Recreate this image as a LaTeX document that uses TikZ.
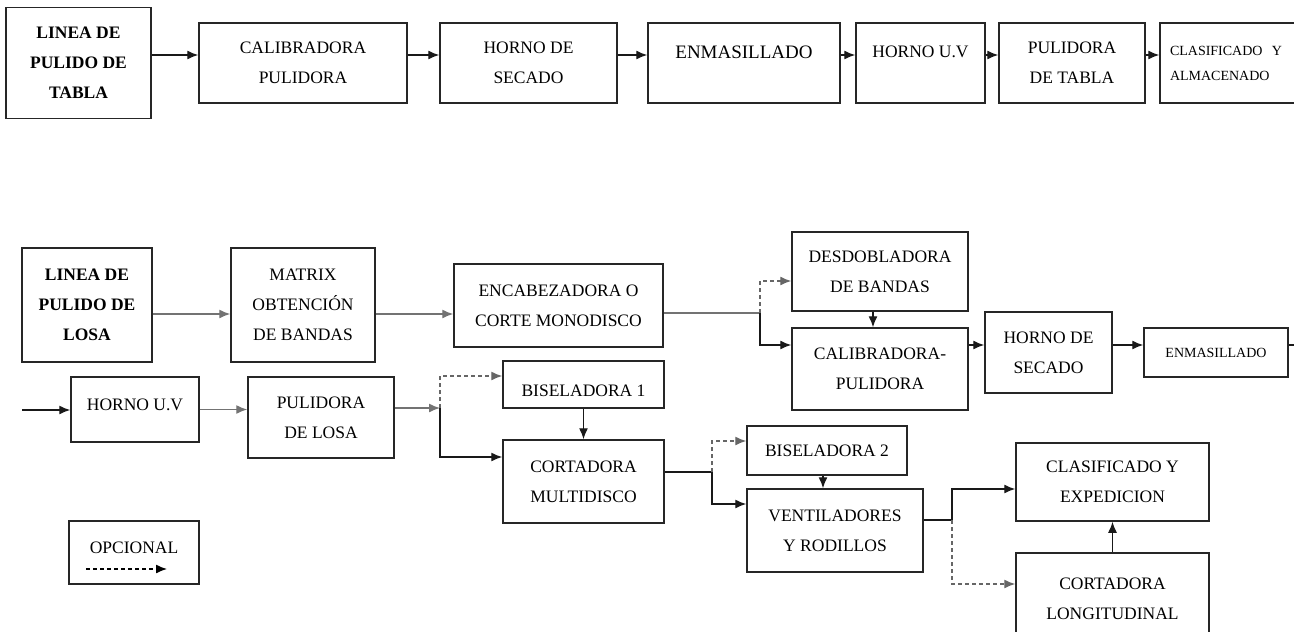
\documentclass[tikz,border=0pt]{standalone}
\usepackage{fontspec}
\setmainfont{Liberation Serif}
\usetikzlibrary{calc}
\usetikzlibrary{arrows.meta}

\begin{document}
\begin{tikzpicture}[x=1pt, y=-1pt, >={Latex[length=11pt,width=9pt]},
	stage/.style={draw=black!85, line width=1.5pt, align=center, font=\fontsize{17.5}{30}\selectfont},
	boldstage/.style={stage, font=\fontsize{17.5}{30}\selectfont\bfseries},
	smallstage/.style={stage, font=\fontsize{14}{25}\selectfont},
	flow/.style={->, line width=1.3pt, black!90},
	link/.style={line width=1.3pt, black!90},
	faint/.style={black!55},
	optional/.style={->, line width=1.3pt, black!60, dash pattern=on 4pt off 3pt}]
	
	\useasboundingbox (0,0) rectangle (1294,632);
	
	%linea de pulido de tabla
	\pgfmathsetmacro\topY{63}
	\pgfmathsetmacro\topH{80}
	
	\node (tLinea) at (78.5, \topY) [boldstage, minimum width=145pt, minimum height=111pt] {LINEA DE\\PULIDO DE\\TABLA};
	\node (tCalib) at (303, \topY) [stage, minimum width=208pt, minimum height=\topH pt] {CALIBRADORA\\PULIDORA};
	\node (tHornoSec) at (528.5, \topY) [stage, minimum width=177pt, minimum height=\topH pt] {HORNO DE\\SECADO};
	\node (tEnmas) at (744, \topY) [stage, minimum width=192pt, minimum height=\topH pt, font=\fontsize{19}{30}\selectfont, text depth=22pt] {ENMASILLADO};
	\node (tHornoUV) at (920.5, \topY) [stage, minimum width=129pt, minimum height=\topH pt, text depth=22pt] {HORNO U.V};
	\node (tPulid) at (1072, \topY) [stage, minimum width=146pt, minimum height=\topH pt] {PULIDORA\\DE TABLA};
	\node (tClasif) at (1230, \topY) [smallstage, minimum width=140pt, minimum height=\topH pt, text width=120pt, align=left] {CLASIFICADO~~Y\\ALMACENADO};
	
	\foreach \a/\b in {tLinea/tCalib, tCalib/tHornoSec, tHornoSec/tEnmas, tEnmas/tHornoUV, tHornoUV/tPulid, tPulid/tClasif}{
		\draw[flow] ([yshift=8pt]\a.east) -- ([yshift=8pt]\a.east -| \b.west);
	}
	
	%linea de pulido de losa
	\pgfmathsetmacro\losaY{305}
	
	\node (bLinea) at (87, \losaY) [boldstage, minimum width=130pt, minimum height=114pt] {LINEA DE\\PULIDO DE\\LOSA};
	\node (bMatrix) at (303, \losaY) [stage, minimum width=144pt, minimum height=114pt] {MATRIX\\OBTENCIÓN\\DE BANDAS};
	\node (bEncab) at (558.5, 305.5) [stage, minimum width=209pt, minimum height=83pt] {ENCABEZADORA O\\CORTE MONODISCO};
	\node (bDesdob) at (880, 271.5) [stage, minimum width=176pt, minimum height=79pt] {DESDOBLADORA\\DE BANDAS};
	\node (bCalib) at (880, 369) [stage, minimum width=176pt, minimum height=82pt] {CALIBRADORA-\\PULIDORA};
	\node (bHornoSec) at (1048.5, 352.5) [stage, minimum width=127pt, minimum height=81pt] {HORNO DE\\SECADO};
	\node (bEnmas) at (1216, 352.5) [smallstage, minimum width=144pt, minimum height=49pt] {ENMASILLADO};
	
	\draw[flow, faint] ([yshift=-9pt]bLinea.east) -- ([yshift=-9pt]bLinea.east -| bMatrix.west);
	\draw[flow, faint] ([yshift=-9pt]bMatrix.east) -- ([yshift=-9pt]bMatrix.east -| bEncab.west);
	
	\coordinate (splitA) at (760, 313);
	\draw[link, faint] ([yshift=-7.5pt]bEncab.east) -- (splitA);
	\draw[optional] (splitA) |- ([yshift=-9.5pt]bDesdob.west);
	\draw[flow] (splitA) |- ([yshift=24pt]bCalib.west);
	
	\draw[flow] ([xshift=-7pt]bDesdob.south) -- ([xshift=-7pt]bCalib.north);
	\draw[flow] ([yshift=24pt]bCalib.east) -- ([yshift=24pt]bCalib.east -| bHornoSec.west);
	\draw[flow] ([yshift=7.5pt]bHornoSec.east) -- ([yshift=7.5pt]bEnmas.west);
	
	\coordinate (outR) at (1300, 345);
	\draw[link] ([yshift=7.5pt]bEnmas.east) -- (outR);
	
	%continuacion de la linea
	\node (cHornoUV) at (135, 409.5) [stage, minimum width=128pt, minimum height=65pt, text depth=10pt] {HORNO U.V};
	\node (cPulid) at (321, 417.5) [stage, minimum width=146pt, minimum height=81pt] {PULIDORA\\DE LOSA};
	\node (cBisel1) at (583.5, 384.5) [stage, minimum width=161pt, minimum height=47pt, text height=25pt] {BISELADORA 1};
	\node (cCort) at (583.5, 481.5) [stage, minimum width=161pt, minimum height=83pt] {CORTADORA\\MULTIDISCO};
	\node (cBisel2) at (827, 450.5) [stage, minimum width=160pt, minimum height=49pt] {BISELADORA 2};
	\node (cVent) at (835, 530.5) [stage, minimum width=176pt, minimum height=83pt] {VENTILADORES\\Y RODILLOS};
	\node (cClasif) at (1112.5, 482) [stage, minimum width=193pt, minimum height=78pt] {CLASIFICADO Y\\EXPEDICION};
	\node (cCortL) at (1112.5, 599) [stage, minimum width=193pt, minimum height=92pt] {CORTADORA\\LONGITUDINAL};
	
	\coordinate (inL) at (22, 410);
	\draw[flow] (inL) -- (inL -| cHornoUV.west);
	\draw[flow, faint] (cHornoUV.east) -- (cHornoUV.east -| cPulid.west);
	
	\coordinate (splitB) at (440, 408);
	\draw[flow, faint] ([yshift=9.5pt]cPulid.east) -- (splitB);
	\draw[optional] (splitB) |- ([yshift=8.5pt]cBisel1.west);
	\draw[flow] (splitB) |- ([yshift=24.5pt]cCort.west);
	\draw[flow] (cBisel1.south) -- (cCort.north);
	
	\coordinate (splitC) at (712, 472);
	\draw[link] ([yshift=9.5pt]cCort.east) -- (splitC);
	\draw[optional] (splitC) |- ([yshift=9.5pt]cBisel2.west);
	\draw[flow] (splitC) |- ([yshift=26.5pt]cVent.west);
	\draw[flow] ([xshift=-4pt]cBisel2.south) -- ([xshift=-4pt]cBisel2.south |- cVent.north);
	
	\coordinate (splitD) at (952, 520);
	\draw[link] ([yshift=10.5pt]cVent.east) -- (splitD);
	\draw[flow] (splitD) |- ([yshift=-7pt]cClasif.west);
	\draw[optional] (splitD) |- ([yshift=15pt]cCortL.west);
	\draw[flow] (cCortL.north) -- (cClasif.south);
	
	%leyenda
	\node (legend) at (134, 552.5) [stage, minimum width=130pt, minimum height=63pt, text depth=9pt] {OPCIONAL};
	\draw[optional, black] ([xshift=-48pt, yshift=-16.5pt]legend.center) -- ([xshift=33pt, yshift=-16.5pt]legend.center);
	
\end{tikzpicture}
\end{document}
